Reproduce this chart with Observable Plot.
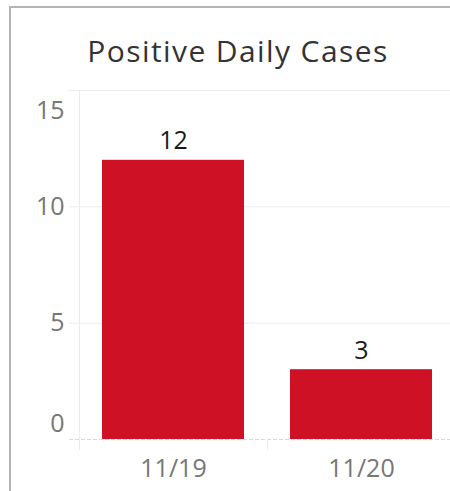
<!DOCTYPE html>
<html><head><meta charset="utf-8">
<script src="https://cdn.jsdelivr.net/npm/d3@7"></script>
<script src="https://cdn.jsdelivr.net/npm/@observablehq/plot@0.6"></script>
<style>
body{margin:0;background:#fff;}
#wrap{position:relative;width:450px;height:491px;overflow:hidden;font-family:"Open Sans",sans-serif;}
#border{position:absolute;left:9px;top:6px;width:460px;height:500px;border-left:2px solid #b4b4b4;border-top:2px solid #b4b4b4;pointer-events:none;}
#title{position:absolute;left:0;width:476px;top:36px;text-align:center;font-size:30px;line-height:30px;letter-spacing:1.4px;color:#333;white-space:nowrap;}
#chart{position:absolute;left:0;top:0;}
</style></head>
<body>
<div id="wrap"><div id="chart"></div><div id="border"></div><div id="title">Positive Daily Cases</div></div>
<script>
const dates = ["11/19", "11/20"];
const cases = [12, 3];
const yTicks = [0, 5, 10, 15];

const data = dates.map((d, i) => ({date: d, cases: cases[i]}));
const xRange = [79, 455];
const step = (xRange[1] - xRange[0]) / dates.length;
const font = {fontSize: 25, fontFamily: "Open Sans"};

const chart = Plot.plot({
  width: 450, height: 491,
  marginTop: 90, marginBottom: 52, marginLeft: 79, marginRight: 0,
  style: {background: "transparent", fontFamily: "Open Sans"},
  x: {type: "band", domain: dates, range: xRange, paddingInner: 0.245, paddingOuter: 0.1225, axis: null, label: null},
  y: {domain: [yTicks[0], yTicks[3]], axis: null, label: null},
  marks: [
    Plot.ruleY(yTicks.slice(1), {stroke: "#ececec", insetLeft: -10}),
    Plot.ruleY([yTicks[0]], {stroke: "#d8d8d8", strokeDasharray: "4,2", insetLeft: -10}),
    Plot.ruleX([dates[0]], {dx: -step / 2, stroke: "#ececec", insetBottom: -11}),
    Plot.ruleX(dates.slice(1), {dx: -step / 2, y1: 0, y2: 0, stroke: "#ececec", insetBottom: -11}),
    Plot.barY(data, {x: "date", y: "cases", fill: "#cf1126"}),
    Plot.text(data, {x: "date", y: "cases", text: d => String(d.cases), dy: -11, lineAnchor: "bottom", fill: "#1a1a1a", ...font}),
    Plot.axisY({ticks: [yTicks[1], yTicks[2]], tickSize: 0, tickPadding: 15, color: "#777", label: null, ...font}),
    Plot.axisY({ticks: [yTicks[3]], tickSize: 0, tickPadding: 15, dy: 20, color: "#777", label: null, ...font}),
    Plot.axisY({ticks: [yTicks[0]], tickSize: 0, tickPadding: 15, dy: -16, color: "#777", label: null, ...font}),
    Plot.axisX({tickSize: 0, tickPadding: 20, color: "#777", label: null, ...font, style: {letterSpacing: "1px"}})
  ]
});
document.getElementById("chart").appendChild(chart);
</script>
</body></html>
